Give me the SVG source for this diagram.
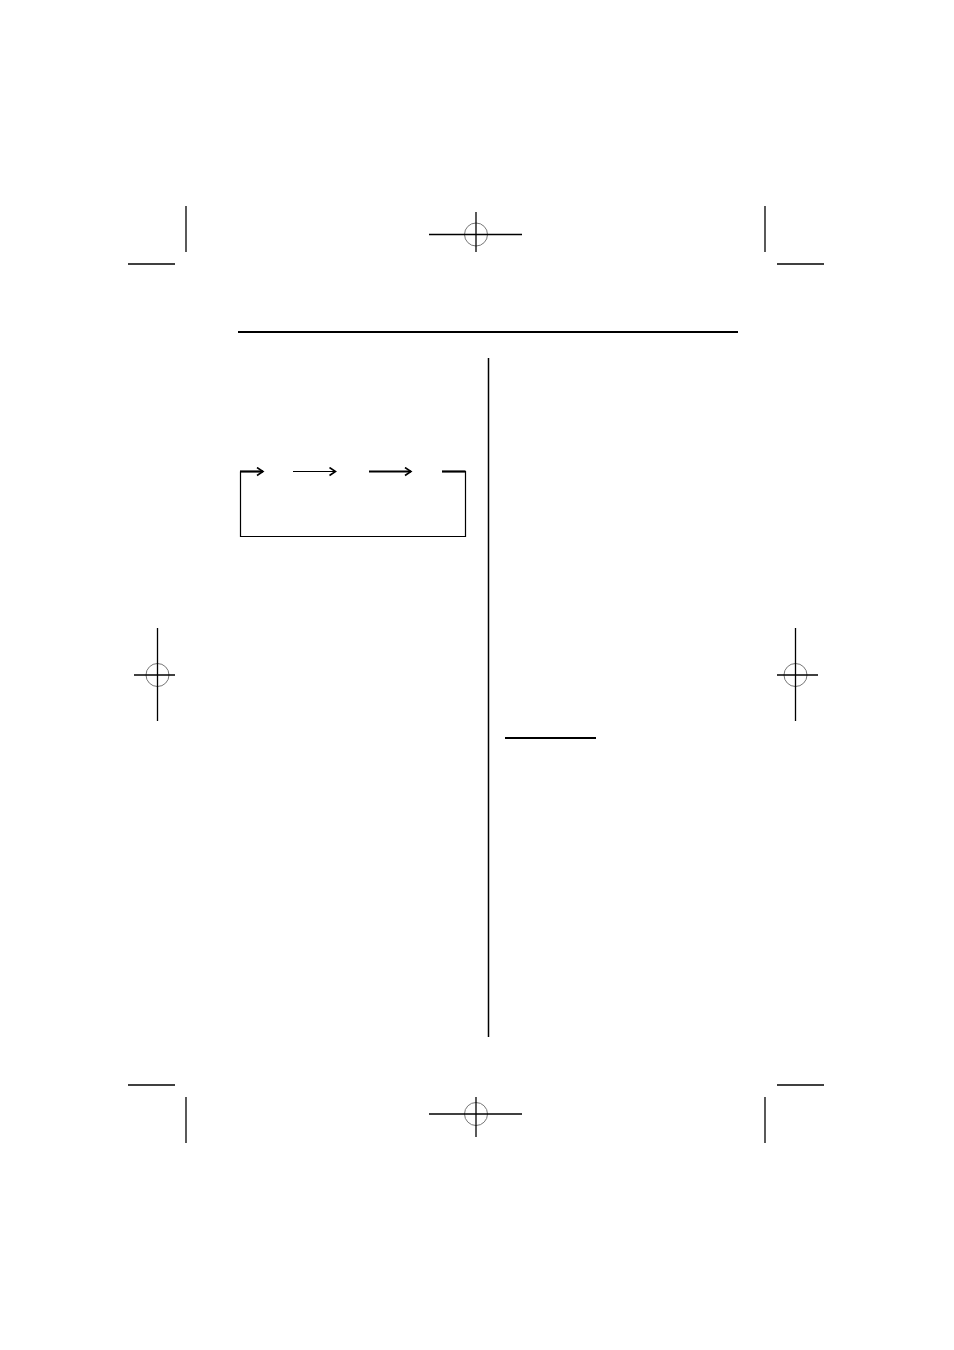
<svg xmlns="http://www.w3.org/2000/svg" width="954" height="1350" viewBox="0 0 954 1350">
<style>
.k{stroke:#000;stroke-width:1.3;fill:none}
.c{stroke:#777;stroke-width:1;fill:none}
.thin{stroke:#000;stroke-width:1.2;fill:none}
.thick{stroke:#000;stroke-width:2.2;fill:none}
</style>
<defs>
<marker id="ah" markerWidth="10" markerHeight="10" refX="8" refY="5" orient="auto" markerUnits="userSpaceOnUse">
<path d="M2,1 L8,5 L2,9" fill="none" stroke="#000" stroke-width="1.6"/>
</marker>
</defs>
<rect width="954" height="1350" fill="#fff"/>
<g id="crop-marks">
<line class="k" x1="186" y1="206" x2="186" y2="252"/>
<line class="k" x1="128" y1="264" x2="175" y2="264"/>
<line class="k" x1="765" y1="206" x2="765" y2="252"/>
<line class="k" x1="777" y1="264" x2="824" y2="264"/>
<line class="k" x1="128" y1="1085" x2="175" y2="1085"/>
<line class="k" x1="186" y1="1097" x2="186" y2="1143"/>
<line class="k" x1="777" y1="1085" x2="824" y2="1085"/>
<line class="k" x1="765" y1="1097" x2="765" y2="1143"/>
</g>
<g id="reg-top">
<circle class="c" cx="476" cy="234.5" r="11.5"/>
<line class="k" x1="429" y1="234.5" x2="522" y2="234.5"/>
<line class="k" x1="476" y1="212" x2="476" y2="252"/>
</g>
<g id="reg-bottom">
<circle class="c" cx="476" cy="1114" r="11.5"/>
<line class="k" x1="429" y1="1114" x2="522" y2="1114"/>
<line class="k" x1="476" y1="1097" x2="476" y2="1137"/>
</g>
<g id="reg-left">
<circle class="c" cx="157.5" cy="675" r="11.5"/>
<line class="k" x1="134" y1="675" x2="175" y2="675"/>
<line class="k" x1="157.5" y1="628" x2="157.5" y2="721"/>
</g>
<g id="reg-right">
<circle class="c" cx="795.5" cy="675" r="11.5"/>
<line class="k" x1="777" y1="675" x2="818" y2="675"/>
<line class="k" x1="795.5" y1="628" x2="795.5" y2="721"/>
</g>
<g id="page">
<line x1="238" y1="332" x2="738" y2="332" stroke="#000" stroke-width="2.2"/>
<line x1="488.5" y1="358" x2="488.5" y2="1037" stroke="#000" stroke-width="1.5"/>
<line x1="505" y1="738" x2="596" y2="738" stroke="#000" stroke-width="2.2"/>
</g>
<g id="connectors">
<polyline class="thin" points="442,471.5 465.5,471.5 465.5,536.5 240.5,536.5 240.5,471.5"/>
<line class="thick" x1="442" y1="471.5" x2="465.5" y2="471.5"/>
<line class="thick" x1="240" y1="471.5" x2="263" y2="471.5" marker-end="url(#ah)"/>
<line class="thin" x1="293" y1="471.5" x2="335.5" y2="471.5" marker-end="url(#ah)"/>
<line class="thick" x1="369" y1="471.5" x2="411" y2="471.5" marker-end="url(#ah)"/>
</g>
</svg>
